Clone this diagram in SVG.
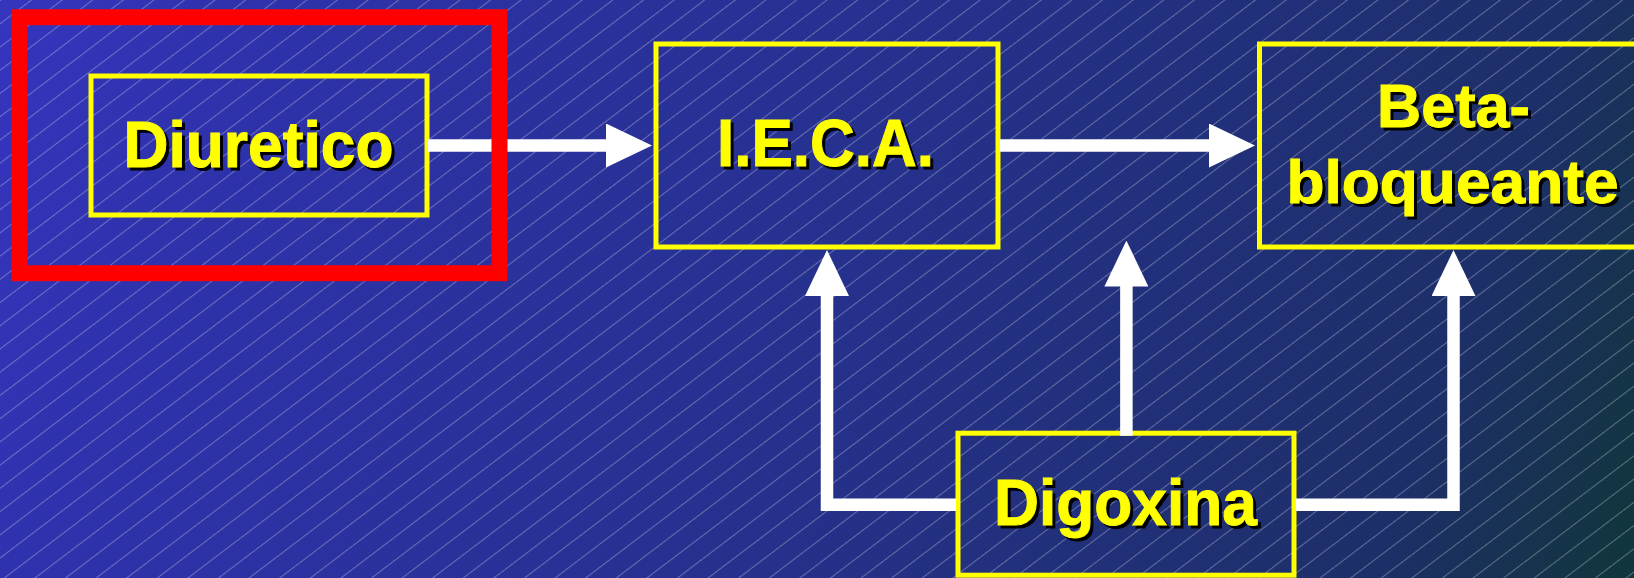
<svg xmlns="http://www.w3.org/2000/svg" width="1634" height="578" viewBox="0 0 1634 578">
  <defs>
    <linearGradient id="bg" gradientUnits="userSpaceOnUse" x1="0" y1="0" x2="1634" y2="578">
      <stop offset="0" stop-color="#3535be"/>
      <stop offset="0.12" stop-color="#2f32ad"/>
      <stop offset="0.5" stop-color="#26318e"/>
      <stop offset="0.86" stop-color="#1d2f68"/>
      <stop offset="1" stop-color="#10363a"/>
    </linearGradient>
    <pattern id="hatch" patternUnits="userSpaceOnUse" width="10" height="18.5" patternTransform="rotate(-37.2)">
      <rect x="0" y="0" width="10" height="1" fill="#ffffff" fill-opacity="0.3"/>
    </pattern>
    <marker id="head" markerUnits="userSpaceOnUse" viewBox="0 -22 46 44" markerWidth="46" markerHeight="44" refX="2" refY="0" orient="auto">
      <path d="M0,-22 L46,0 L0,22 z" fill="#ffffff"/>
    </marker>
    <style>
      .box { fill: none; stroke: #ffff00; stroke-width: 5; }
      .lbl { font-family: "Liberation Sans", Arial, sans-serif; font-weight: bold; text-anchor: middle; fill: #ffff00; stroke: #ffff00; stroke-width: 1; }
      .sh { font-family: "Liberation Sans", Arial, sans-serif; font-weight: bold; text-anchor: middle; fill: #000000; stroke: #000000; stroke-width: 1; }
      .link { fill: none; stroke: #ffffff; stroke-width: 12.5; stroke-linejoin: miter; marker-end: url(#head); }
    </style>
  </defs>

  <!-- backdrop: diagonal gradient with fine hatch lines -->
  <rect x="0" y="0" width="1634" height="578" fill="url(#bg)"/>
  <rect x="0" y="0" width="1634" height="578" fill="url(#hatch)"/>

  <g id="diuretico">
    <rect class="box" x="91" y="76" width="336" height="139"/>
    <text class="sh" x="261.5" y="170" font-size="65" textLength="270" lengthAdjust="spacingAndGlyphs">Diuretico</text>
    <text class="lbl" x="258.5" y="167" font-size="65" textLength="270" lengthAdjust="spacingAndGlyphs">Diuretico</text>
  </g>

  <g id="ieca">
    <rect class="box" x="656" y="44" width="342" height="203"/>
    <text class="sh" x="828.5" y="169" font-size="66" textLength="217" lengthAdjust="spacingAndGlyphs">I.E.C.A.</text>
    <text class="lbl" x="825.5" y="166" font-size="66" textLength="217" lengthAdjust="spacingAndGlyphs">I.E.C.A.</text>
  </g>

  <g id="betabloqueante">
    <rect class="box" x="1259.5" y="44" width="400" height="203"/>
    <text class="sh" x="1456.5" y="130" font-size="61" textLength="153" lengthAdjust="spacingAndGlyphs">Beta-</text>
    <text class="lbl" x="1453.5" y="127" font-size="61" textLength="153" lengthAdjust="spacingAndGlyphs">Beta-</text>
    <text class="sh" x="1455.5" y="206" font-size="61" textLength="332" lengthAdjust="spacingAndGlyphs">bloqueante</text>
    <text class="lbl" x="1452.5" y="203" font-size="61" textLength="332" lengthAdjust="spacingAndGlyphs">bloqueante</text>
  </g>

  <g id="digoxina">
    <rect class="box" x="958" y="433.2" width="336" height="142"/>
    <text class="sh" x="1128.5" y="528" font-size="65" textLength="263" lengthAdjust="spacingAndGlyphs">Digoxina</text>
    <text class="lbl" x="1125.5" y="525" font-size="65" textLength="263" lengthAdjust="spacingAndGlyphs">Digoxina</text>
  </g>

  <g id="connectors">
    <path class="link" d="M428 145.5 H608"/>
    <path class="link" d="M1000 145.5 H1211"/>
    <path class="link" d="M956 504.7 H827 V294"/>
    <path class="link" d="M1126.4 435.7 V284.5"/>
    <path class="link" d="M1296 504.7 H1453.5 V294"/>
  </g>

  <g id="highlight">
    <rect x="19.5" y="17.2" width="480" height="256" fill="none" stroke="#ff0000" stroke-width="16"/>
  </g>
</svg>
